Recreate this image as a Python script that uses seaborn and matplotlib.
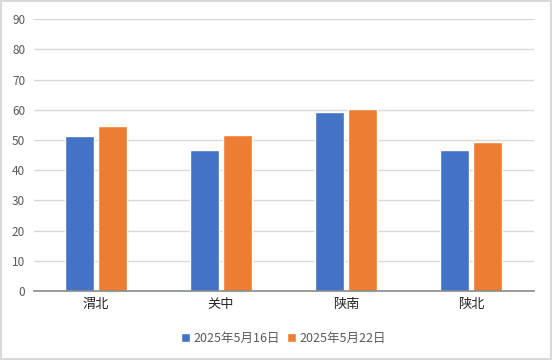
import pandas as pd
import matplotlib.pyplot as plt
import seaborn as sns

regions = ["渭北", "关中", "陕南", "陕北"]
dates = ["2025年5月16日", "2025年5月22日"]
vals_0516 = [51.2, 46.8, 59.3, 46.8]
vals_0522 = [54.5, 51.7, 60.4, 49.4]
colors = ["#4472C4", "#ED7D31"]

df = pd.DataFrame({
    "region": regions * 2,
    "date": [dates[0]] * 4 + [dates[1]] * 4,
    "value": vals_0516 + vals_0522,
})

sns.set_style("white")
plt.rcParams["font.family"] = ["Noto Sans CJK SC", "DejaVu Sans"]

fig = plt.figure(figsize=(5.52, 3.6), dpi=100)
fig.patch.set_edgecolor("#D9D9D9")
fig.patch.set_linewidth(1.5)
ax = fig.add_axes([0.0607, 0.1917, 0.9058, 0.7553])

sns.barplot(data=df, x="region", y="value", hue="date", palette=colors,
            width=0.52, gap=0.12, ax=ax, legend=True, saturation=1)

ax.set_ylim(0, 90)
ax.set_yticks(range(0, 91, 10))
ax.set_xlim(-0.5, 3.5)
ax.yaxis.grid(True, color="#D9D9D9", linewidth=1)
ax.set_axisbelow(True)
for s in ["top", "right", "left"]:
    ax.spines[s].set_visible(False)
ax.spines["bottom"].set_color("#898989")
ax.spines["bottom"].set_linewidth(1.2)
ax.tick_params(axis="y", length=0, labelsize=8.5, labelcolor="#595959", pad=6)
ax.tick_params(axis="x", length=0, labelsize=9.5, labelcolor="#262626", pad=5)
ax.set_xlabel("")
ax.set_ylabel("")

ax.legend(handles=ax.get_legend().legend_handles, labels=dates,
          loc="upper center", bbox_to_anchor=(0.5, -0.11), ncol=2,
          frameon=False, fontsize=9, labelcolor="#595959",
          handlelength=0.7, handleheight=0.7, handletextpad=0.3,
          columnspacing=0.6)

fig.savefig("out.png", dpi=100, edgecolor=fig.get_edgecolor())
